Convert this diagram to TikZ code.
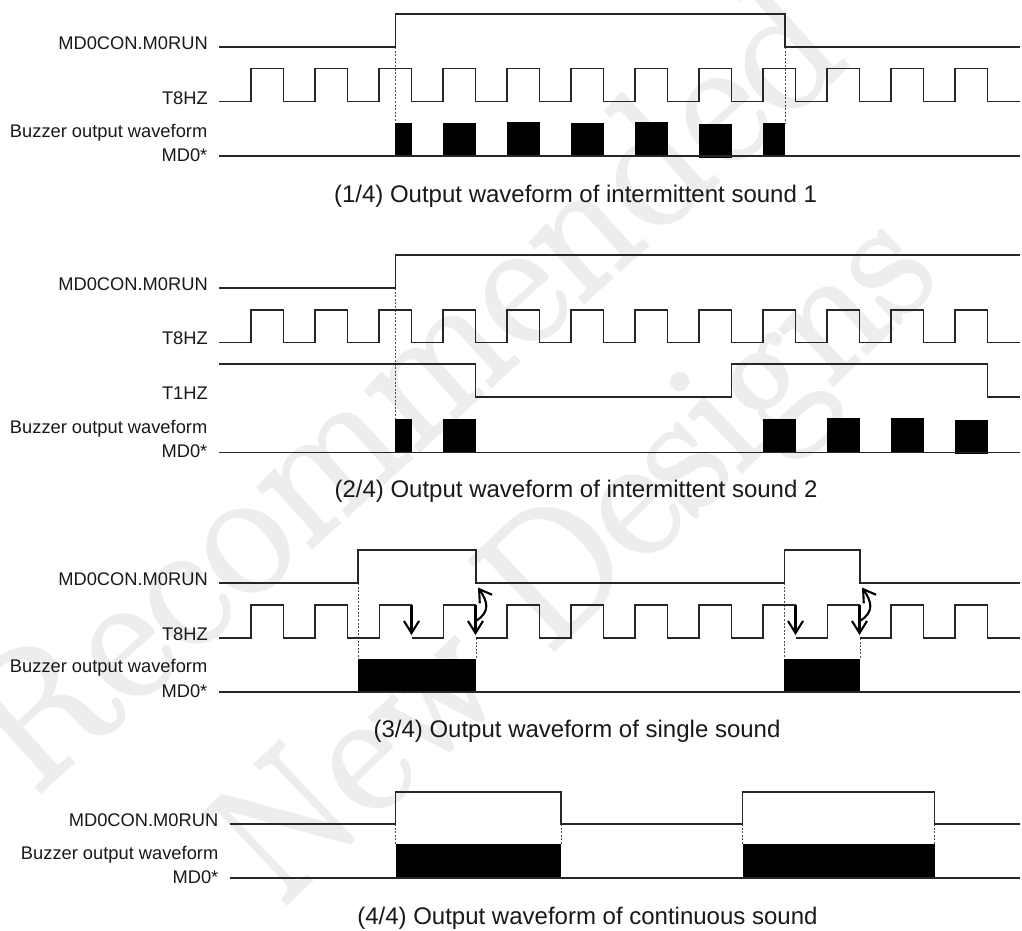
\documentclass[tikz,border=0pt]{standalone}
\usepackage{fontspec}
\newfontfamily\labelfont{Liberation Sans}
\newfontfamily\stampfont[FakeBold=2.5,LetterSpace=1]{Latin Modern Roman}
\newfontfamily\stampfontb[FakeBold=2.5]{Latin Modern Roman}
\usetikzlibrary{arrows.meta}
\newcommand{\clk}[5]{% hi, lo, start x, list of periods, tail path
  \draw[wave] (#3,#2) foreach \n in {#4} { -- ({251+64*\n},#2) -- ({251+64*\n},#1) -- ({283.5+64*\n},#1) -- ({283.5+64*\n},#2) } #5;}
\tikzset{
  x=1pt,y=-1pt,
  wave/.style={draw=black!85,line width=1.1pt,line join=miter},
  pulse/.style={fill=black,draw=none},
  guide/.style={draw=black!70,line width=0.8pt,dash pattern=on 2pt off 1.6pt},
  lbl/.style={anchor=base east,inner sep=0pt,font=\labelfont\fontsize{18.3}{20}\selectfont,text=black!90},
  captxt/.style={anchor=base,inner sep=0pt,font=\labelfont\fontsize{24}{26}\selectfont,text=black!90},
  tmark/.style={draw=black,line width=2.1pt,-{Straight Barb[length=12pt,width=15pt,line width=2.1pt]}},
  stamp/.style={anchor=base,inner sep=0pt,text=black!7}
}
\begin{document}
\begin{tikzpicture}
\useasboundingbox (0,0) rectangle (1022,930);
\fill[white] (0,0) rectangle (1022,930);
% status stamp in the background
\node[stamp,rotate=42,font=\stampfont\fontsize{185}{185}\selectfont] (stamp1) at (316,543) {Not Recommended};
\node[stamp,rotate=43.5,font=\stampfontb\fontsize{178}{178}\selectfont] (stamp2) at (611,595) {New Designs};

% ---------- diagram 1
\draw[guide] (395.5,47) -- (395.5,123);
\draw[guide] (785,47) -- (785,123);
\draw[wave] (219,47) -- (395.5,47) -- (395.5,14) -- (785,14) -- (785,47) -- (1020,47);
\clk{68.5}{101.5}{219}{0,1,...,11}{-- (1020,101.5)}
\foreach \a/\b/\t/\u in {395/412/123/156,443/476/123/156,506.7/540/122.3/156,571/604/123/156,635/668.3/122.3/156,699/732/124/157.7,763/785.3/123/156}
  \fill[pulse] (\a,\t) rectangle (\b,\u);
\draw[wave] (219,156) -- (1020,156);
\node[lbl] (a1) at (208,49.5) {MD0CON.M0RUN};
\node[lbl] (a2) at (208,104) {T8HZ};
\node[lbl] (a3) at (207.5,137.5) {Buzzer output waveform};
\node[lbl] (a4) at (207.5,161.5) {MD0*};
\node[captxt] (a5) at (575.5,202) {(1/4) Output waveform of intermittent sound 1};

% ---------- diagram 2
\draw[guide] (395.5,288) -- (395.5,419);
\draw[wave] (219,288) -- (395.5,288) -- (395.5,255) -- (1020,255);
\clk{310}{342.5}{219}{0,1,...,11}{-- (1020,342.5)}
\draw[wave] (219,364) -- (475.5,364) -- (475.5,397) -- (731.5,397) -- (731.5,364) -- (987.5,364) -- (987.5,397) -- (1020,397);
\foreach \a/\b/\t/\u in {395/412/419/453,443/476/419/453,763/796/419.3/453,827.3/860.3/418.3/453,891/924.3/418.3/453,955/988/420/454}
  \fill[pulse] (\a,\t) rectangle (\b,\u);
\draw[wave] (219,452.5) -- (1020,452.5);
\node[lbl] (b1) at (208,290.5) {MD0CON.M0RUN};
\node[lbl] (b2) at (208,344.5) {T8HZ};
\node[lbl] (b3) at (208,399.5) {T1HZ};
\node[lbl] (b4) at (207.5,433.5) {Buzzer output waveform};
\node[lbl] (b5) at (207.5,457.5) {MD0*};
\node[captxt] (b6) at (576,497.8) {(2/4) Output waveform of intermittent sound 2};

% ---------- diagram 3
\draw[guide] (358,583) -- (358,659);
\draw[guide] (476,638) -- (476,659);
\draw[guide] (784.5,583) -- (784.5,659);
\draw[guide] (860,638) -- (860,659);
\draw[wave] (219,583) -- (358,583) -- (358,550) -- (476,550) -- (476,583) -- (784.5,583) -- (784.5,550) -- (860,550) -- (860,583) -- (1020,583);
\clk{605}{638}{219}{0,1}{-- (379.5,638) -- (379.5,605) -- (411.5,605)}
\draw[wave] (411.5,638) -- (443.5,638) -- (443.5,605) -- (475.5,605);
\clk{605}{638}{475.5}{4,5,6,7}{-- (763,638) -- (763,605) -- (795.5,605)}
\draw[wave] (795.5,638) -- (827.5,638) -- (827.5,605) -- (859.5,605);
\clk{605}{638}{859.5}{10,11}{-- (1020,638)}
\fill[pulse] (357.5,659) rectangle (476,692.5);
\fill[pulse] (784,659) rectangle (860,692.5);
\draw[wave] (219,692) -- (1020,692);
\coordinate (m1s) at (411.5,605); \coordinate (m1e) at (411.5,635);
\coordinate (m2s) at (475.5,605); \coordinate (m2e) at (475.5,635);
\coordinate (m3s) at (795.5,605); \coordinate (m3e) at (795.5,635);
\coordinate (m4s) at (859.5,605); \coordinate (m4e) at (859.5,635);
\draw[tmark] (m1s) -- (m1e);
\draw[tmark] (m2s) -- (m2e);
\draw[tmark] (m3s) -- (m3e);
\draw[tmark] (m4s) -- (m4e);
\coordinate (c1s) at (476.5,620.5); \coordinate (c1e) at (478,587.5);
\coordinate (c2s) at (860.5,620.5); \coordinate (c2e) at (862,587.5);
\draw[tmark] (c1s) .. controls (490,612) and (488,602) .. (c1e);
\draw[tmark] (c2s) .. controls (874,612) and (872,602) .. (c2e);
\node[lbl] (c1) at (208,585) {MD0CON.M0RUN};
\node[lbl] (c2) at (208,640.3) {T8HZ};
\node[lbl] (c3) at (207.5,672.7) {Buzzer output waveform};
\node[lbl] (c4) at (207.5,697) {MD0*};
\node[captxt] (c5) at (577,737.8) {(3/4) Output waveform of single sound};

% ---------- diagram 4
\draw[guide] (395.5,824) -- (395.5,844);
\draw[guide] (561,824) -- (561,844);
\draw[guide] (742.5,824) -- (742.5,844);
\draw[guide] (934.5,824) -- (934.5,844);
\draw[wave] (230,824) -- (395.5,824) -- (395.5,792) -- (561,792) -- (561,824) -- (742.5,824) -- (742.5,792) -- (934.5,792) -- (934.5,824) -- (1020,824);
\fill[pulse] (395.5,844) rectangle (561,878.5);
\fill[pulse] (742.5,844) rectangle (934.5,878.5);
\draw[wave] (230,878) -- (1020,878);
\node[lbl] (d1) at (218.5,826) {MD0CON.M0RUN};
\node[lbl] (d2) at (218.5,859) {Buzzer output waveform};
\node[lbl] (d3) at (218.5,883) {MD0*};
\node[captxt] (d4) at (587.4,924.3) {(4/4) Output waveform of continuous sound};
\end{tikzpicture}
\end{document}
